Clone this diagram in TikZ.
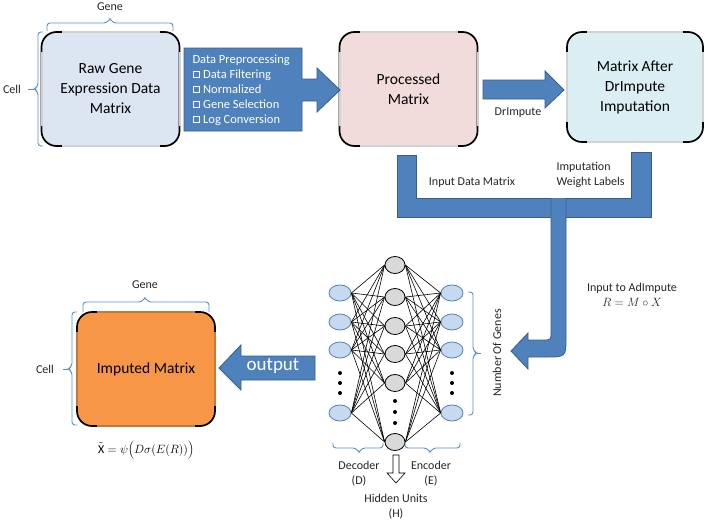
\documentclass[tikz,border=0pt]{standalone}
\usepackage{fontspec}
\setmainfont{Carlito}
\usetikzlibrary{calc,shapes.geometric}
\definecolor{afill}{HTML}{4F81BD}
\definecolor{aline}{HTML}{385D8A}
\definecolor{bracec}{HTML}{5B8FD0}
\definecolor{rawfill}{HTML}{DCE6F2}
\definecolor{procfill}{HTML}{F2DCDB}
\definecolor{afterfill}{HTML}{DAEEF3}
\definecolor{impfill}{HTML}{F79646}
\definecolor{bluenode}{HTML}{C6D9F1}
\definecolor{graynode}{HTML}{D9D9D9}
\newcommand{\cbx}{\tikz[baseline=-0.5pt]\draw[white,line width=1.3pt] (0,0) rectangle (6.5pt,6.5pt);}
\begin{document}
\begin{tikzpicture}[x=1pt,y=-1pt,
  mbox/.style={draw=black,line width=1.7pt,rounded corners=15pt,outer sep=0pt,
    minimum width=138pt,minimum height=114pt,align=center,inner sep=2pt,
    font=\fontsize{15.5}{20}\selectfont},
  bigarrow/.style={fill=afill,draw=aline,line width=0.8pt,line join=miter},
  bracestyle/.style={draw=bracec,line width=0.9pt,rounded corners=3pt},
  lbl/.style={font=\fontsize{12}{14}\selectfont,text=black!85},
  mlbl/.style={font=\fontsize{12}{15}\selectfont,text=black!85},
  bnode/.style={ellipse,draw=afill,fill=bluenode,line width=0.8pt,minimum width=22pt,minimum height=16pt,inner sep=0pt},
  hnode/.style={ellipse,draw=black,fill=graynode,line width=0.8pt,minimum width=20pt,minimum height=17pt,inner sep=0pt},
  nnedge/.style={draw=black,line width=0.6pt},
  dotm/.style={circle,fill=black,inner sep=0pt,minimum size=4pt}
]
\useasboundingbox (0,0) rectangle (708,522);
\fill[white] (0,0) rectangle (708,522);

% ---------- top boxes ----------
\node[mbox,fill=rawfill] (raw) at (110.5,89) {Raw Gene\\Expression Data\\Matrix};
\node[mbox,fill=procfill] (proc) at (408.5,89) {Processed\\Matrix};
\node[mbox,fill=afterfill,minimum width=136pt,minimum height=110pt] (after) at (635,87) {Matrix After\\DrImpute\\Imputation};
\node[mbox,fill=impfill] (imp) at (146,369) {Imputed Matrix};

% lighten the straight edges, leaving black corners
\foreach \n/\c in {raw/gray!35,proc/gray!35,after/gray!35,imp/impfill!80!black} {
  \draw[\c,line width=2pt] ($(\n.north west)+(20pt,0)$) -- ($(\n.north east)+(-20pt,0)$);
  \draw[\c,line width=2pt] ($(\n.south west)+(20pt,0)$) -- ($(\n.south east)+(-20pt,0)$);
  \draw[\c,line width=2pt] ($(\n.north west)+(0,-20pt)$) -- ($(\n.south west)+(0,20pt)$);
  \draw[\c,line width=2pt] ($(\n.north east)+(0,-20pt)$) -- ($(\n.south east)+(0,20pt)$);
}

% ---------- braces and labels for raw ----------
\draw[bracestyle] (47,31) -- (47,23) -- (107,23) -- (110,18) -- (113,23) -- (173,23) -- (173,31);
\node[lbl] (genea) at (110,7) {Gene};
\draw[bracestyle] (43,32) -- (38,32) -- (38,86) -- (34,89) -- (38,92) -- (38,146) -- (43,146);
\draw[bracec,line width=0.9pt] (34,89) -- (28,89);
\node[lbl] (cella) at (12,89) {Cell};

% ---------- Data preprocessing callout arrow ----------
\draw[bigarrow] (184,48) -- (302,48) -- (302,79) -- (317,79) -- (317,68) -- (340,90)
  -- (317,112) -- (317,101) -- (302,101) -- (302,131) -- (184,131) -- cycle;
\node[anchor=west,align=left,text=white,font=\fontsize{12.5}{15}\selectfont] (prep) at (189,90)
  {Data Preprocessing\\\cbx\ Data Filtering\\\cbx\ Normalized\\\cbx\ Gene Selection\\\cbx\ Log Conversion};

% ---------- DrImpute arrow ----------
\draw[bigarrow] (483,80) -- (545,80) -- (545,71) -- (564,90) -- (545,108) -- (545,99) -- (483,99) -- cycle;
\node[lbl] (drl) at (518,113) {DrImpute};

% ---------- U connector ----------
\draw[bigarrow] (397,155) -- (416,155) -- (416,198) -- (631,198) -- (631,152) -- (651,152)
  -- (651,217) -- (397,217) -- cycle;
\draw[bigarrow] (551,198) -- (551,332) .. controls (551,340) .. (543,340) -- (528,340) -- (528,333)
  -- (511,351) -- (528,369) -- (528,357) -- (546,357) .. controls (566,357) .. (566,337) -- (566,198);
\node[mlbl] (idm) at (472,182) {Input Data Matrix};
\node[mlbl,anchor=west,align=left] (iwl) at (553,175) {Imputation\\Weight Labels};
\node[mlbl,align=center] (adi) at (632,295) {Input to AdImpute\\$R = M \circ X$};

% ---------- neural network ----------
\foreach \i/\y in {1/293,2/322,3/350,4/413} {
  \node[bnode] (l\i) at (340,\y) {};
  \node[bnode] (r\i) at (452,\y) {};
}
\foreach \i/\y in {1/265,2/297,3/326,4/354,5/383,6/442} {
  \node[hnode] (h\i) at (395,\y) {};
}
\foreach \a in {1,2,3,4} {
  \foreach \b in {1,2,3,4,5,6} {
    \draw[nnedge] (l\a.east) -- (h\b.west);
    \draw[nnedge] (h\b.east) -- (r\a.west);
  }
}
\foreach \y in {373,383,393} {
  \node[dotm] at (340,\y) {};
  \node[dotm] at (452,\y) {};
}
\foreach \y in {401,412,423} { \node[dotm] at (395,\y) {}; }

% braces under network
\draw[bracestyle] (333,443) -- (333,448) -- (356,448) -- (359,453) -- (362,448) -- (383,448) -- (383,443);
\draw[bracestyle] (405,443) -- (405,448) -- (427,448) -- (430,453) -- (433,448) -- (460,448) -- (460,443);
\node[mlbl,align=center] (dec) at (359,474) {Decoder\\(D)};
\node[mlbl,align=center] (enc) at (431,474) {Encoder\\(E)};
\node[mlbl,align=center] (hid) at (396,507) {Hidden Units\\(H)};
\draw[fill=white,draw=black,line width=0.6pt] (393,455) -- (399,455) -- (399,473) -- (405,473)
  -- (396,483) -- (387,473) -- (393,473) -- cycle;

% number of genes brace
\draw[bracestyle] (468,292) -- (473,292) -- (473,350) -- (477,353) -- (473,356) -- (473,415) -- (468,415);
\draw[bracec,line width=0.9pt] (477,353) -- (481,353);
\node[mlbl,rotate=90] (nog) at (497,353) {Number Of Genes};

% ---------- output arrow ----------
\draw[bigarrow] (315,356) -- (241,356) -- (241,345) -- (219,368) -- (241,390) -- (241,380) -- (315,380) -- cycle;
\node[text=white,font=\fontsize{19}{20}\selectfont] (outl) at (273,366) {output};

% ---------- imputed braces ----------
\draw[bracestyle] (83,312) -- (83,302) -- (142,302) -- (145,297) -- (148,302) -- (209,302) -- (209,312);
\node[lbl] (geneb) at (145,285) {Gene};
\draw[bracestyle] (77,312) -- (72,312) -- (72,366) -- (68,369) -- (72,372) -- (72,425) -- (77,425);
\draw[bracec,line width=0.9pt] (68,369) -- (63,369);
\node[lbl] (cellb) at (45,369) {Cell};
\node[font=\fontsize{12}{14}\selectfont] (form) at (146,450)
  {$\tilde{\mathrm{X}} = \psi\Bigl(D\sigma\bigl(E(R)\bigr)\Bigr)$};
\end{tikzpicture}
\end{document}
